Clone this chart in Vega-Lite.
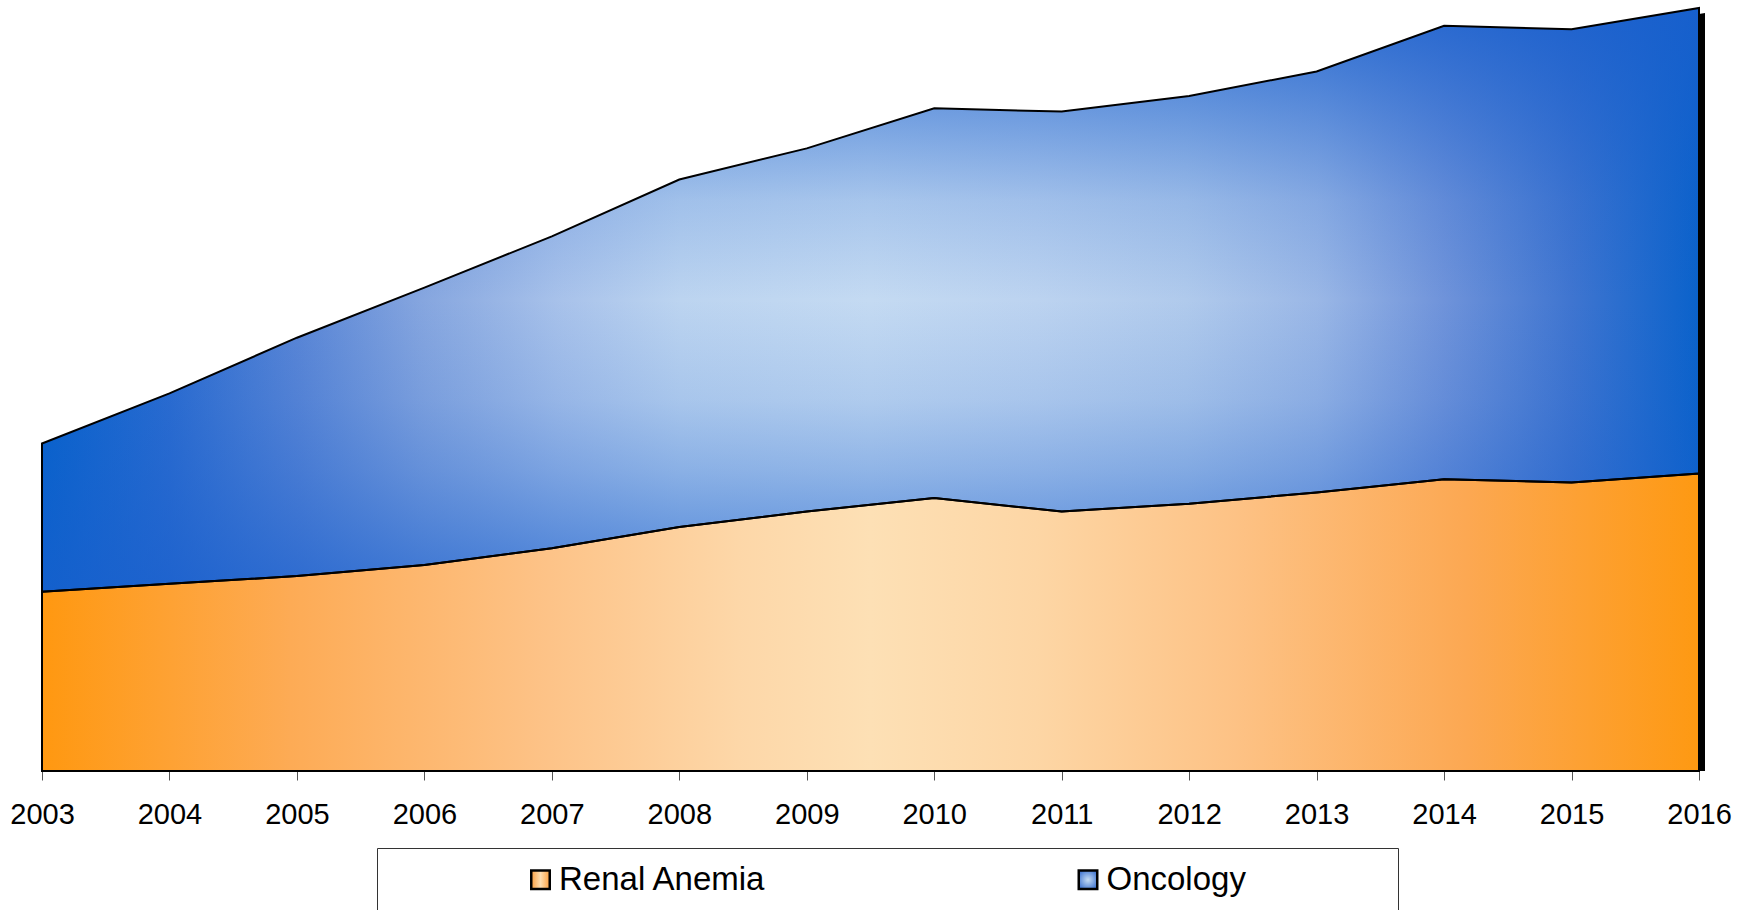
{
  "$schema": "https://vega.github.io/schema/vega-lite/v6.json",
  "width": 1657,
  "height": 763,
  "autosize": {"type": "none"},
  "padding": {"left": 42, "top": 8, "right": 49, "bottom": 139},
  "background": "white",
  "config": {
    "view": {"stroke": null},
    "font": "Liberation Sans",
    "legend": {"strokeWidth": 1}
  },
  "data": {
    "values": [
      {"year": 2003, "series": "Renal Anemia", "rank": 1, "value": 161},
      {"year": 2004, "series": "Renal Anemia", "rank": 1, "value": 168},
      {"year": 2005, "series": "Renal Anemia", "rank": 1, "value": 175},
      {"year": 2006, "series": "Renal Anemia", "rank": 1, "value": 185},
      {"year": 2007, "series": "Renal Anemia", "rank": 1, "value": 200},
      {"year": 2008, "series": "Renal Anemia", "rank": 1, "value": 219},
      {"year": 2009, "series": "Renal Anemia", "rank": 1, "value": 233},
      {"year": 2010, "series": "Renal Anemia", "rank": 1, "value": 245},
      {"year": 2011, "series": "Renal Anemia", "rank": 1, "value": 233},
      {"year": 2012, "series": "Renal Anemia", "rank": 1, "value": 240},
      {"year": 2013, "series": "Renal Anemia", "rank": 1, "value": 250},
      {"year": 2014, "series": "Renal Anemia", "rank": 1, "value": 262},
      {"year": 2015, "series": "Renal Anemia", "rank": 1, "value": 259},
      {"year": 2016, "series": "Renal Anemia", "rank": 1, "value": 267},
      {"year": 2003, "series": "Oncology", "rank": 2, "value": 133},
      {"year": 2004, "series": "Oncology", "rank": 2, "value": 171},
      {"year": 2005, "series": "Oncology", "rank": 2, "value": 214},
      {"year": 2006, "series": "Oncology", "rank": 2, "value": 249},
      {"year": 2007, "series": "Oncology", "rank": 2, "value": 280},
      {"year": 2008, "series": "Oncology", "rank": 2, "value": 312},
      {"year": 2009, "series": "Oncology", "rank": 2, "value": 326},
      {"year": 2010, "series": "Oncology", "rank": 2, "value": 350},
      {"year": 2011, "series": "Oncology", "rank": 2, "value": 359},
      {"year": 2012, "series": "Oncology", "rank": 2, "value": 366},
      {"year": 2013, "series": "Oncology", "rank": 2, "value": 378},
      {"year": 2014, "series": "Oncology", "rank": 2, "value": 407},
      {"year": 2015, "series": "Oncology", "rank": 2, "value": 407},
      {"year": 2016, "series": "Oncology", "rank": 2, "value": 418}
    ]
  },
  "transform": [
    {"stack": "value", "groupby": ["year"], "sort": [{"field": "rank", "order": "ascending"}], "as": ["v0", "v1"]}
  ],
  "encoding": {
    "x": {
      "field": "year",
      "type": "quantitative",
      "scale": {"domain": [2003, 2016], "nice": false, "zero": false},
      "axis": {
        "title": null,
        "values": [2003, 2004, 2005, 2006, 2007, 2008, 2009, 2010, 2011, 2012, 2013, 2014, 2015, 2016],
        "format": "d",
        "grid": false,
        "domain": true,
        "domainColor": "black",
        "domainWidth": 1,
        "ticks": true,
        "tickColor": "#555555",
        "tickSize": 9,
        "tickWidth": 1,
        "labelFont": "Liberation Sans",
        "labelFontSize": 29,
        "labelColor": "black",
        "labelPadding": 20,
        "labelFlush": false,
        "labelOverlap": false
      }
    },
    "y": {
      "field": "v1",
      "type": "quantitative",
      "scale": {"domain": [0, 685], "nice": false},
      "axis": null
    },
    "y2": {"field": "v0"}
  },
  "layer": [
    {
      "transform": [{"filter": "datum.series === 'Oncology'"}],
      "mark": {"type": "area", "color": "black", "xOffset": 6, "yOffset": 5},
      "encoding": {"y2": {"datum": 0}}
    },
    {
      "transform": [{"filter": "datum.series === 'Renal Anemia'"}],
      "mark": {
        "type": "area",
        "fill": {
          "gradient": "linear", "x1": 0, "y1": 0, "x2": 1, "y2": 0,
          "stops": [
            {"offset": 0, "color": "#FF9810"},
            {"offset": 0.15, "color": "#FDAB55"},
            {"offset": 0.3, "color": "#FDC286"},
            {"offset": 0.42, "color": "#FDD7A8"},
            {"offset": 0.5, "color": "#FDE0B5"},
            {"offset": 0.6, "color": "#FDD6A5"},
            {"offset": 0.72, "color": "#FDC285"},
            {"offset": 0.86, "color": "#FCA852"},
            {"offset": 1, "color": "#FE9912"}
          ]
        }
      }
    },
    {
      "transform": [{"filter": "datum.series === 'Oncology'"}],
      "mark": {
        "type": "area",
        "fill": {
          "gradient": "linear", "x1": 0, "y1": 0, "x2": 1, "y2": 0,
          "stops": [
            {"offset": 0, "color": "#0562CC"},
            {"offset": 0.077, "color": "#2B6CD0"},
            {"offset": 0.154, "color": "#5A86D6"},
            {"offset": 0.23, "color": "#86A6DF"},
            {"offset": 0.31, "color": "#A7C1EA"},
            {"offset": 0.385, "color": "#BCD4F0"},
            {"offset": 0.5, "color": "#C4DAF2"},
            {"offset": 0.6, "color": "#BCD3F0"},
            {"offset": 0.69, "color": "#B0CAEC"},
            {"offset": 0.77, "color": "#9AB7E6"},
            {"offset": 0.846, "color": "#6F93DA"},
            {"offset": 0.923, "color": "#3F75D0"},
            {"offset": 1, "color": "#0A62CB"}
          ]
        }
      }
    },
    {
      "transform": [{"filter": "datum.series === 'Oncology'"}],
      "mark": {
        "type": "area",
        "fill": {
          "gradient": "linear", "x1": 0, "y1": 0, "x2": 0, "y2": 1,
          "stops": [
            {"offset": 0, "color": "rgba(25,95,205,0.85)"},
            {"offset": 0.17, "color": "rgba(25,95,205,0.5)"},
            {"offset": 0.33, "color": "rgba(25,95,205,0.17)"},
            {"offset": 0.5, "color": "rgba(25,95,205,0)"},
            {"offset": 0.67, "color": "rgba(25,95,205,0.12)"},
            {"offset": 0.79, "color": "rgba(25,95,205,0.3)"},
            {"offset": 0.87, "color": "rgba(25,95,205,0.45)"},
            {"offset": 1, "color": "rgba(25,95,205,0.7)"}
          ]
        }
      }
    },
    {
      "mark": {"type": "area", "filled": false, "strokeWidth": 2, "strokeJoin": "miter"},
      "encoding": {
        "color": {
          "field": "series",
          "type": "nominal",
          "scale": {"domain": ["Renal Anemia", "Oncology"], "range": ["black", "black"]},
          "legend": {
            "orient": "none",
            "legendX": 335,
            "legendY": 840,
            "direction": "horizontal",
            "title": " ",
            "titleOrient": "right",
            "titlePadding": 136.5,
            "titleFontSize": 33,
            "padding": 15,
            "strokeColor": "#333333",
            "fillColor": "white",
            "symbolType": "square",
            "symbolSize": 342,
            "symbolStrokeWidth": 2.5,
            "symbolOffset": 132,
            "symbolStrokeColor": "black",
            "labelFont": "Liberation Sans",
            "labelFontSize": 33,
            "labelColor": "black",
            "labelOffset": 2,
            "labelLimit": 400,
            "columnPadding": 172.5,
            "encoding": {
              "symbols": {
                "fill": {
                  "condition": {
                    "test": "datum.label === 'Oncology'",
                    "value": {
                      "gradient": "radial", "x1": 0.5, "y1": 0.5, "r1": 0, "x2": 0.5, "y2": 0.5, "r2": 0.6,
                      "stops": [
                        {"offset": 0, "color": "#C6DCF3"},
                        {"offset": 1, "color": "#3F74D0"}
                      ]
                    }
                  },
                  "value": {
                    "gradient": "linear", "x1": 0, "y1": 0, "x2": 1, "y2": 0,
                    "stops": [
                      {"offset": 0, "color": "#FCA040"},
                      {"offset": 0.5, "color": "#FDDDB0"},
                      {"offset": 1, "color": "#FCA040"}
                    ]
                  }
                }
              }
            }
          }
        }
      }
    }
  ]
}
